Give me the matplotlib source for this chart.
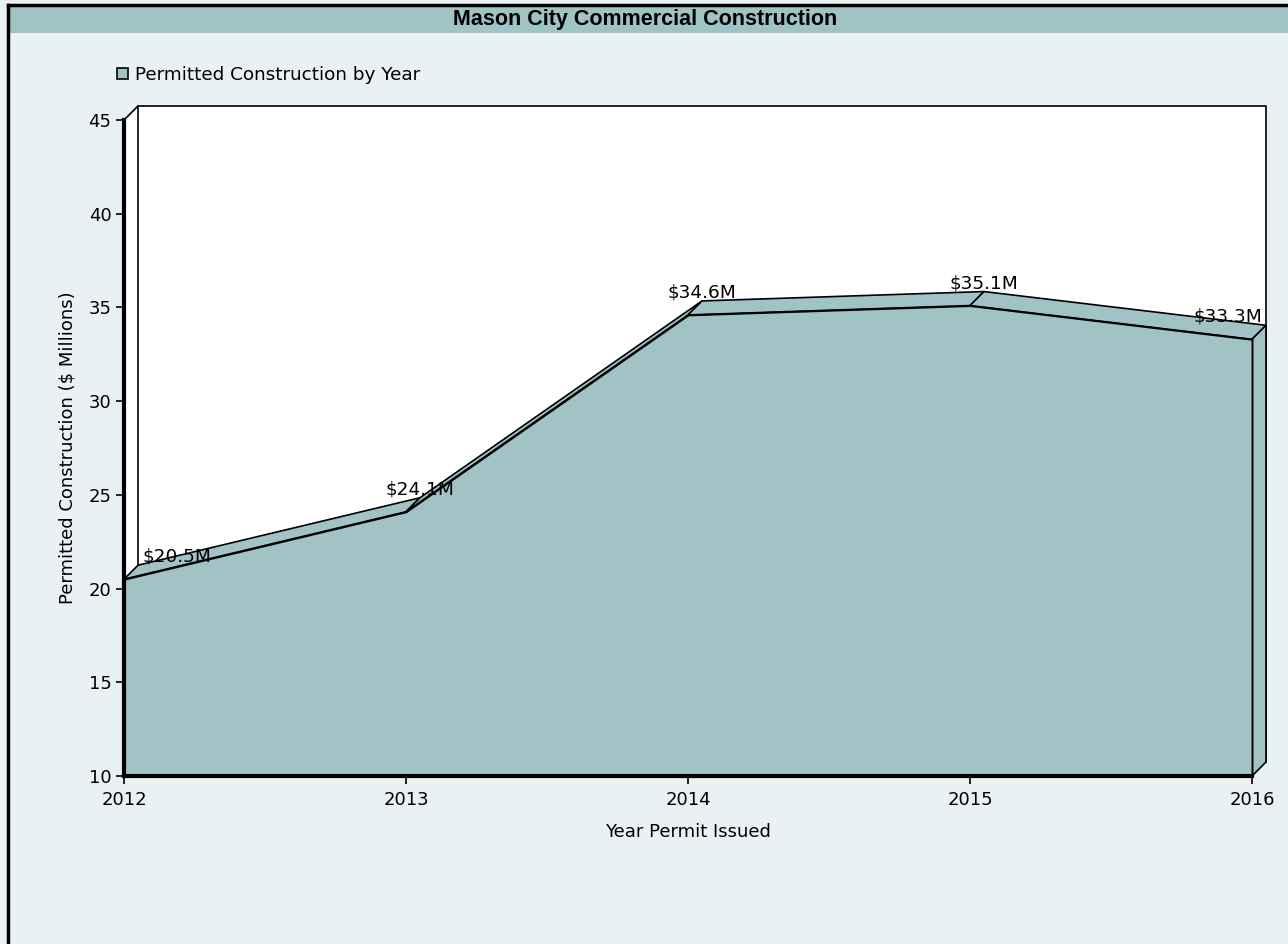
"""
Mason City commercial construction: permitted value by year, drawn as a
pseudo-3D area chart (front face + depth strip + side face).

Output: out.png (1288x944)
"""
import matplotlib

matplotlib.use("Agg")
import matplotlib.pyplot as plt  # noqa: E402
from matplotlib.lines import Line2D  # noqa: E402
from matplotlib.patches import Patch, Polygon, Rectangle  # noqa: E402

# --- data -------------------------------------------------------------------
years = [2012, 2013, 2014, 2015, 2016]
permits = [20.5, 24.1, 34.6, 35.1, 33.3]  # $ millions
value_labels = ["$20.5M", "$24.1M", "$34.6M", "$35.1M", "$33.3M"]
y_ticks = [10, 15, 20, 25, 30, 35, 40, 45]

TITLE = "Mason City Commercial Construction"
SERIES = "Permitted Construction by Year"
X_LABEL = "Year Permit Issued"
Y_LABEL = "Permitted Construction ($ Millions)"

# --- style ------------------------------------------------------------------
BG = "#e9f1f4"
BAR = "#a0c4c4"
AREA = "#a1c3c5"
W, H, DPI = 1288, 944, 100
DEPTH_PX = 14  # 3D depth offset (pixels, right and up)

plt.rcParams["font.family"] = ["DejaVu Sans"]


def px(x, y):
    """pixel position (from top-left) -> figure fraction"""
    return x / W, 1 - y / H


def main() -> None:
    fig = plt.figure(figsize=(W / DPI, H / DPI), dpi=DPI, facecolor=BG)

    # title bar + frame lines
    fig.patches.append(Rectangle(px(8, 33), 1, 27 / H, transform=fig.transFigure,
                                 facecolor=BAR, edgecolor="none", zorder=0))
    fig.add_artist(Line2D([8 / W, 1], [1 - 5 / H] * 2, color="black", lw=2.5))
    fig.add_artist(Line2D([8 / W] * 2, [0, 1 - 5 / H], color="black", lw=2.5))
    fig.text(*px(645, 19), TITLE, ha="center", va="center", fontsize=15.5,
             fontweight="bold", family=["Liberation Sans", "DejaVu Sans"])

    # front plane of the plot box
    left, right, top, bottom = 124, 1252, 120, 776
    ax = fig.add_axes([left / W, 1 - bottom / H, (right - left) / W, (bottom - top) / H])
    ax.set_xlim(years[0], years[-1])
    ax.set_ylim(y_ticks[0], y_ticks[-1])
    ax.patch.set_visible(False)

    # depth offset in data units
    dx = DEPTH_PX * (years[-1] - years[0]) / (right - left)
    dy = DEPTH_PX * (y_ticks[-1] - y_ticks[0]) / (bottom - top)
    x0, x1 = years[0], years[-1]
    y0, y1 = y_ticks[0], y_ticks[-1]

    # white box (left wall + back wall)
    box = [(x0, y0), (x0, y1), (x0 + dx, y1 + dy), (x1 + dx, y1 + dy),
           (x1 + dx, y0 + dy), (x1, y0)]
    ax.add_patch(Polygon(box, closed=True, facecolor="white", edgecolor="none",
                         zorder=0.2, clip_on=False))
    ax.plot([x0, x0 + dx, x1 + dx, x1 + dx], [y1, y1 + dy, y1 + dy, y0 + dy],
            color="black", lw=1.2, zorder=0.3, clip_on=False)
    ax.plot([x0 + dx, x0 + dx], [y1 + dy, y0 + dy], color="black", lw=1.2,
            zorder=0.3, clip_on=False)

    # top strip, one quad per segment
    for i in range(len(years) - 1):
        xa, xb = years[i], years[i + 1]
        va, vb = permits[i], permits[i + 1]
        quad = [(xa, va), (xb, vb), (xb + dx, vb + dy), (xa + dx, va + dy)]
        ax.add_patch(Polygon(quad, closed=True, facecolor=AREA, edgecolor="black",
                             lw=1.2, zorder=1, clip_on=False))

    # right side face
    side = [(x1, permits[-1]), (x1 + dx, permits[-1] + dy), (x1 + dx, y0 + dy), (x1, y0)]
    ax.add_patch(Polygon(side, closed=True, facecolor=AREA, edgecolor="black",
                         lw=1.2, zorder=1, clip_on=False))

    # front face
    ax.fill_between(years, permits, y0, facecolor=AREA, edgecolor="black",
                    lw=1.4, zorder=1.5, clip_on=False)

    # value labels at the back edge of each point
    for i, (yr, v, lab) in enumerate(zip(years, permits, value_labels)):
        if i == 0:
            ha, off = "left", 3
        elif i == len(years) - 1:
            ha, off = "right", -3
        else:
            ha, off = "center", 0
        ax.annotate(lab, xy=(yr + dx, v + dy), xytext=(off, 2.5),
                    textcoords="offset points", ha=ha, va="baseline",
                    fontsize=13.3, color="black", zorder=3, annotation_clip=False)

    # axes
    for s in ("top", "right"):
        ax.spines[s].set_visible(False)
    for s in ("left", "bottom"):
        ax.spines[s].set_linewidth(3)
        ax.spines[s].set_zorder(2.5)
    ax.set_xticks(years)
    ax.set_xticklabels([str(y) for y in years])
    ax.set_yticks(y_ticks)
    ax.tick_params(axis="both", direction="out", length=6, width=1.2,
                   labelsize=13, colors="black")
    ax.tick_params(axis="y", pad=3)
    ax.tick_params(axis="x", pad=5)

    ax.set_xlabel(X_LABEL, fontsize=13)
    ax.xaxis.set_label_coords(0.5, -0.072)
    ax.set_ylabel(Y_LABEL, fontsize=13)
    ax.yaxis.set_label_coords(-0.042, 0.5)

    # legend
    handle = Patch(facecolor=BAR, edgecolor="black", lw=1.2)
    ax.legend([handle], [SERIES], loc="center left",
              bbox_to_anchor=px(117, 75), bbox_transform=fig.transFigure,
              frameon=False, fontsize=13.2, handlelength=0.6, handleheight=0.6,
              handletextpad=0.4, borderpad=0, borderaxespad=0)

    fig.savefig("out.png", dpi=DPI, facecolor=BG)
    plt.close(fig)


if __name__ == "__main__":
    main()
